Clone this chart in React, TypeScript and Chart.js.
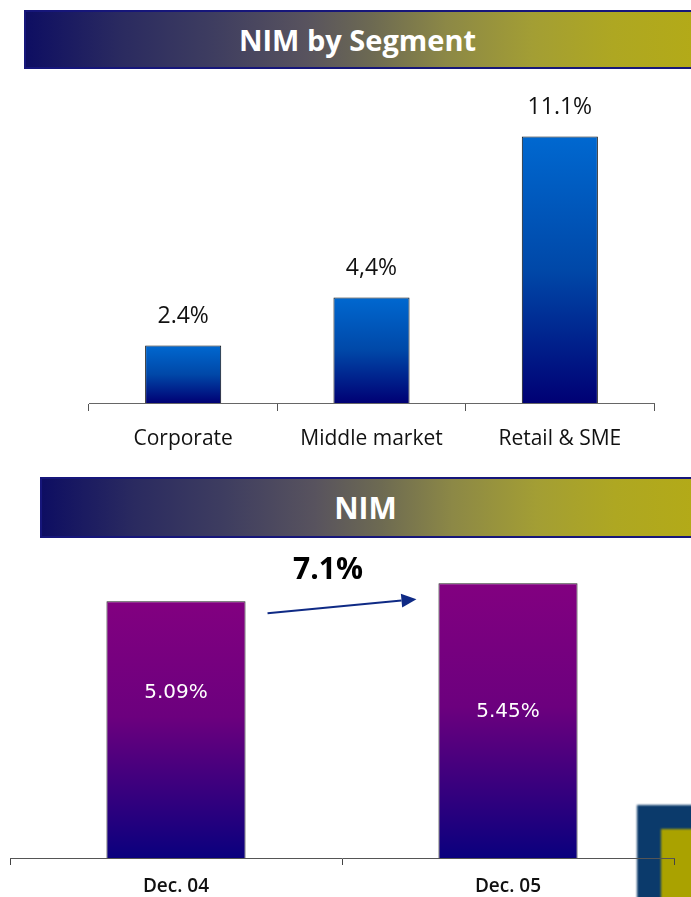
import React, { useEffect, useRef } from "react";
import { Chart, registerables } from "chart.js";

Chart.register(...registerables);

// ---- data ----
const segmentCategories = ["Corporate", "Middle market", "Retail & SME"];
const segmentValues = [2.4, 4.4, 11.1];
const segmentLabels = ["2.4%", "4,4%", "11.1%"];

const nimCategories = ["Dec. 04", "Dec. 05"];
const nimValues = [5.09, 5.45];
const nimLabels = ["5.09%", "5.45%"];
const nimLabelAt = [3.28, 2.9];
const nimGrowthLabel = "7.1%";

const blueStops: [number, string][] = [
  [0, "#0068d0"],
  [0.5, "#0048a8"],
  [1, "#000074"],
];
const purpleStops: [number, string][] = [
  [0, "#820080"],
  [0.45, "#6c007e"],
  [1, "#0a007e"],
];

function barGradient(stops: [number, string][]) {
  return (c: any) => {
    const chart = c.chart;
    const area = chart.chartArea;
    if (!area || c.type !== "data" || !chart.scales.y) return stops[0][1];
    const ys = chart.scales.y;
    const top = ys.getPixelForValue(c.raw);
    const bottom = ys.getPixelForValue(0);
    if (!isFinite(top) || !isFinite(bottom) || top === bottom) return stops[0][1];
    const g = chart.ctx.createLinearGradient(0, top, 0, bottom);
    stops.forEach(([o, col]) => g.addColorStop(o, col));
    return g;
  };
}

const segmentLabelPlugin = {
  id: "segLabels",
  afterDatasetsDraw(chart: any) {
    const { ctx } = chart;
    const meta = chart.getDatasetMeta(0);
    ctx.save();
    ctx.font = '23px "Open Sans"';
    ctx.fillStyle = "#111";
    ctx.textAlign = "center";
    ctx.textBaseline = "middle";
    meta.data.forEach((bar: any, i: number) => {
      ctx.fillText(segmentLabels[i], bar.x, bar.y - 29);
    });
    ctx.restore();
  },
};

const nimPlugin = {
  id: "nimDecor",
  afterDatasetsDraw(chart: any) {
    const { ctx } = chart;
    const meta = chart.getDatasetMeta(0);
    const ys = chart.scales.y;
    ctx.save();
    ctx.font = '20px "DejaVu Sans"';
    ctx.fillStyle = "#ffffff";
    ctx.textAlign = "center";
    ctx.textBaseline = "middle";
    meta.data.forEach((bar: any, i: number) => {
      ctx.fillText(nimLabels[i], bar.x, ys.getPixelForValue(nimLabelAt[i]));
    });
    const b0 = meta.data[0];
    const b1 = meta.data[1];
    const x0 = b0.x + b0.width / 2 + 22;
    const y0 = b0.y + 12;
    const x1 = b1.x - b1.width / 2 - 22;
    const y1 = b1.y + 16;
    const ang = Math.atan2(y1 - y0, x1 - x0);
    const head = 15;
    const hw = 7;
    const bx = x1 - head * Math.cos(ang);
    const by = y1 - head * Math.sin(ang);
    ctx.strokeStyle = "#0f2a85";
    ctx.fillStyle = "#0f2a85";
    ctx.lineWidth = 2;
    ctx.beginPath();
    ctx.moveTo(x0, y0);
    ctx.lineTo(bx, by);
    ctx.stroke();
    ctx.beginPath();
    ctx.moveTo(x1, y1);
    ctx.lineTo(bx + hw * Math.sin(ang), by - hw * Math.cos(ang));
    ctx.lineTo(bx - hw * Math.sin(ang), by + hw * Math.cos(ang));
    ctx.closePath();
    ctx.fill();
    ctx.font = 'bold 30px "Open Sans"';
    ctx.fillStyle = "#000";
    ctx.fillText(nimGrowthLabel, (b0.x + b1.x) / 2 - 14, b1.y - 13);
    ctx.restore();
  },
};

const bannerStyle = (top: number, left: number, height: number): React.CSSProperties => ({
  position: "absolute",
  top,
  left,
  width: 691 - left + 4,
  height,
  boxSizing: "border-box",
  border: "2px solid #16167a",
  background:
    "linear-gradient(to right, #0e0e62 0%, #2a2a60 14%, #3e3d60 28%, #58535e 42%, #6d6a52 52%, #8c8846 63%, #a39e34 76%, #aea722 88%, #b3aa18 100%)",
  color: "#fff",
  fontFamily: '"Open Sans", sans-serif',
  fontWeight: 700,
  display: "flex",
  alignItems: "center",
  justifyContent: "center",
  paddingRight: 4,
});

export default function App() {
  const ref1 = useRef<HTMLCanvasElement>(null);
  const ref2 = useRef<HTMLCanvasElement>(null);

  useEffect(() => {
    const c1 = new Chart(ref1.current!, {
      type: "bar",
      data: {
        labels: segmentCategories,
        datasets: [
          {
            data: segmentValues,
            backgroundColor: barGradient(blueStops) as any,
            borderColor: "#111",
            borderWidth: 1,
            barPercentage: 0.404,
            categoryPercentage: 1,
          },
        ],
      },
      options: {
        animation: false,
        responsive: false,
        maintainAspectRatio: false,
        layout: { padding: { left: 89, right: 37, top: 35, bottom: 0 } },
        plugins: { legend: { display: false }, tooltip: { enabled: false } },
        scales: {
          x: {
            grid: { drawOnChartArea: false, tickLength: 8, color: "#555", offset: true },
            border: { color: "#666", width: 1 },
            ticks: { font: { family: "Open Sans", size: 21 }, color: "#111", padding: 15 },
            afterFit: (s: any) => {
              s.height = 57;
            },
          },
          y: { display: false, min: 0, max: 12 },
        },
      },
      plugins: [segmentLabelPlugin],
    });

    const c2 = new Chart(ref2.current!, {
      type: "bar",
      data: {
        labels: nimCategories,
        datasets: [
          {
            data: nimValues,
            backgroundColor: barGradient(purpleStops) as any,
            borderColor: "#222",
            borderWidth: 1,
            barPercentage: 0.419,
            categoryPercentage: 1,
          },
        ],
      },
      options: {
        animation: false,
        responsive: false,
        maintainAspectRatio: false,
        layout: { padding: { left: 10, right: 17, top: 20, bottom: 0 } },
        plugins: { legend: { display: false }, tooltip: { enabled: false } },
        scales: {
          x: {
            grid: { drawOnChartArea: false, tickLength: 7, color: "#444", offset: true },
            border: { color: "#555", width: 1 },
            ticks: {
              font: { family: "Open Sans", size: 19, weight: "600" as any },
              color: "#111",
              padding: 10,
            },
            afterFit: (s: any) => {
              s.height = 39;
            },
          },
          y: { display: false, min: 0, max: 5.91 },
        },
      },
      plugins: [nimPlugin],
    });

    return () => {
      c1.destroy();
      c2.destroy();
    };
  }, []);

  return (
    <div
      style={{
        position: "fixed",
        top: 0,
        left: 0,
        width: 691,
        height: 897,
        background: "#fff",
        overflow: "hidden",
      }}
    >
      <div style={{ ...bannerStyle(10, 24, 59), fontSize: 29 }}>NIM by Segment</div>
      <div style={{ ...bannerStyle(477, 40, 61), fontSize: 30 }}>NIM</div>
      {/* logo fragment */}
      <div
        style={{
          position: "absolute",
          left: 637,
          top: 805,
          width: 80,
          height: 120,
          background: "#0b3a6b",
          filter: "blur(1px)",
        }}
      >
        <div
          style={{
            position: "absolute",
            left: 24,
            top: 24,
            width: 60,
            height: 100,
            background: "#aaa200",
          }}
        />
      </div>
      <canvas
        ref={ref1}
        width={691}
        height={380}
        style={{ position: "absolute", left: 0, top: 80, width: 691, height: 380 }}
      />
      <canvas
        ref={ref2}
        width={691}
        height={357}
        style={{ position: "absolute", left: 0, top: 540, width: 691, height: 357 }}
      />
    </div>
  );
}
